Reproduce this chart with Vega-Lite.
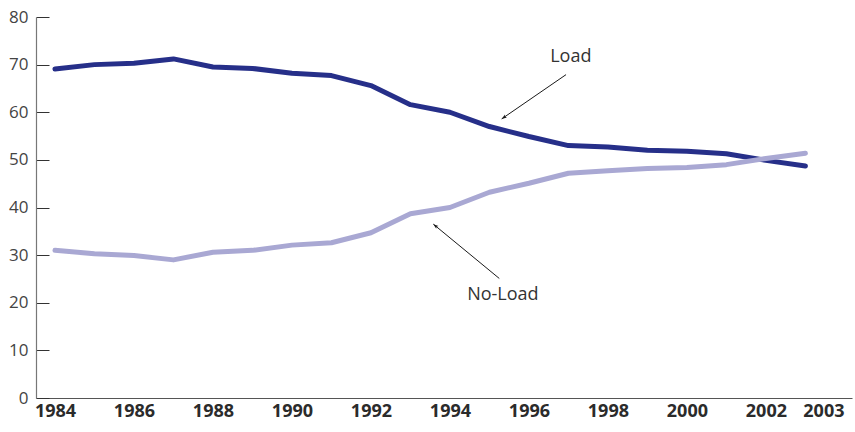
{
  "$schema": "https://vega.github.io/schema/vega-lite/v6.json",
  "width": 816,
  "height": 381,
  "autosize": {"type": "none"},
  "padding": {"left": 36, "top": 17, "right": 3, "bottom": 34},
  "background": "white",
  "config": {"view": {"stroke": null}, "font": "Open Sans"},
  "datasets": {
    "series": [
      {"year": 1984, "series": "Load", "share": 69.1},
      {"year": 1985, "series": "Load", "share": 70.0},
      {"year": 1986, "series": "Load", "share": 70.3},
      {"year": 1987, "series": "Load", "share": 71.2},
      {"year": 1988, "series": "Load", "share": 69.5},
      {"year": 1989, "series": "Load", "share": 69.2},
      {"year": 1990, "series": "Load", "share": 68.2},
      {"year": 1991, "series": "Load", "share": 67.7},
      {"year": 1992, "series": "Load", "share": 65.6},
      {"year": 1993, "series": "Load", "share": 61.6},
      {"year": 1994, "series": "Load", "share": 60.0},
      {"year": 1995, "series": "Load", "share": 57.0},
      {"year": 1996, "series": "Load", "share": 54.9},
      {"year": 1997, "series": "Load", "share": 53.0},
      {"year": 1998, "series": "Load", "share": 52.7},
      {"year": 1999, "series": "Load", "share": 52.0},
      {"year": 2000, "series": "Load", "share": 51.8},
      {"year": 2001, "series": "Load", "share": 51.3},
      {"year": 2002, "series": "Load", "share": 49.9},
      {"year": 2003, "series": "Load", "share": 48.7},
      {"year": 1984, "series": "No-Load", "share": 31.0},
      {"year": 1985, "series": "No-Load", "share": 30.3},
      {"year": 1986, "series": "No-Load", "share": 29.9},
      {"year": 1987, "series": "No-Load", "share": 29.0},
      {"year": 1988, "series": "No-Load", "share": 30.6},
      {"year": 1989, "series": "No-Load", "share": 31.0},
      {"year": 1990, "series": "No-Load", "share": 32.1},
      {"year": 1991, "series": "No-Load", "share": 32.6},
      {"year": 1992, "series": "No-Load", "share": 34.7},
      {"year": 1993, "series": "No-Load", "share": 38.7},
      {"year": 1994, "series": "No-Load", "share": 40.0},
      {"year": 1995, "series": "No-Load", "share": 43.2},
      {"year": 1996, "series": "No-Load", "share": 45.1},
      {"year": 1997, "series": "No-Load", "share": 47.2},
      {"year": 1998, "series": "No-Load", "share": 47.7},
      {"year": 1999, "series": "No-Load", "share": 48.2},
      {"year": 2000, "series": "No-Load", "share": 48.4},
      {"year": 2001, "series": "No-Load", "share": 49.0},
      {"year": 2002, "series": "No-Load", "share": 50.3},
      {"year": 2003, "series": "No-Load", "share": 51.4}
    ],
    "labels": [
      {"label": "Load", "year": 1997.06, "share": 71.5},
      {"label": "No-Load", "year": 1995.34, "share": 21.6}
    ],
    "arrowLoad": [
      {"x": 1996.94, "y": 67.9, "x2": 1995.31, "y2": 58.6}
    ],
    "arrowNoLoad": [
      {"x": 1995.25, "y": 25.1, "x2": 1993.58, "y2": 36.5}
    ]
  },
  "layer": [
    {
      "data": {"name": "series"},
      "mark": {"type": "line", "strokeWidth": 5, "strokeCap": "round", "strokeJoin": "round"},
      "encoding": {
        "x": {
          "field": "year",
          "type": "quantitative",
          "scale": {"domain": [1983.52, 2004.18], "nice": false, "zero": false},
          "axis": {
            "title": null,
            "values": [1984, 1986, 1988, 1990, 1992, 1994, 1996, 1998, 2000, 2002, 2003],
            "format": "d",
            "ticks": false,
            "grid": false,
            "domainColor": "#555555",
            "domainWidth": 1.2,
            "labelFont": "Open Sans",
            "labelFontSize": 18,
            "labelFontWeight": "bold",
            "labelColor": "#2b2b2b",
            "labelPadding": 4,
            "labelFlush": false,
            "labelOverlap": false,
            "labelOffset": {"condition": {"test": "datum.value == 2003", "value": 18}, "value": 0}
          }
        },
        "y": {
          "field": "share",
          "type": "quantitative",
          "scale": {"domain": [0, 80], "nice": false},
          "axis": {
            "title": null,
            "values": [0, 10, 20, 30, 40, 50, 60, 70, 80],
            "grid": false,
            "domainColor": "#777777",
            "domainWidth": 1.2,
            "tickColor": "#333333",
            "tickSize": -13,
            "tickWidth": 1,
            "labelFont": "Open Sans",
            "labelFontSize": 17,
            "labelColor": "#444444",
            "labelPadding": 21
          }
        },
        "color": {
          "field": "series",
          "type": "nominal",
          "scale": {"domain": ["Load", "No-Load"], "range": ["#262f89", "#a9a8d3"]},
          "legend": null
        },
        "order": {"field": "year"}
      }
    },
    {
      "data": {"name": "arrowLoad"},
      "mark": {"type": "rule", "color": "#1a1a1a", "strokeWidth": 1},
      "encoding": {
        "x": {"field": "x", "type": "quantitative"},
        "y": {"field": "y", "type": "quantitative"},
        "x2": {"field": "x2"},
        "y2": {"field": "y2"}
      }
    },
    {
      "data": {"name": "arrowLoad"},
      "mark": {"type": "point", "shape": "M0,0 L0.45,1.3 L0,1.0 L-0.45,1.3 Z", "filled": true, "color": "#1a1a1a", "opacity": 1, "size": 64, "angle": 235},
      "encoding": {
        "x": {"field": "x2", "type": "quantitative"},
        "y": {"field": "y2", "type": "quantitative"}
      }
    },
    {
      "data": {"name": "arrowNoLoad"},
      "mark": {"type": "rule", "color": "#1a1a1a", "strokeWidth": 1},
      "encoding": {
        "x": {"field": "x", "type": "quantitative"},
        "y": {"field": "y", "type": "quantitative"},
        "x2": {"field": "x2"},
        "y2": {"field": "y2"}
      }
    },
    {
      "data": {"name": "arrowNoLoad"},
      "mark": {"type": "point", "shape": "M0,0 L0.45,1.3 L0,1.0 L-0.45,1.3 Z", "filled": true, "color": "#1a1a1a", "opacity": 1, "size": 64, "angle": 309},
      "encoding": {
        "x": {"field": "x2", "type": "quantitative"},
        "y": {"field": "y2", "type": "quantitative"}
      }
    },
    {
      "data": {"name": "labels"},
      "mark": {"type": "text", "font": "Open Sans", "fontSize": 18, "color": "#333333", "align": "center", "baseline": "middle"},
      "encoding": {
        "x": {"field": "year", "type": "quantitative"},
        "y": {"field": "share", "type": "quantitative"},
        "text": {"field": "label"}
      }
    }
  ]
}
